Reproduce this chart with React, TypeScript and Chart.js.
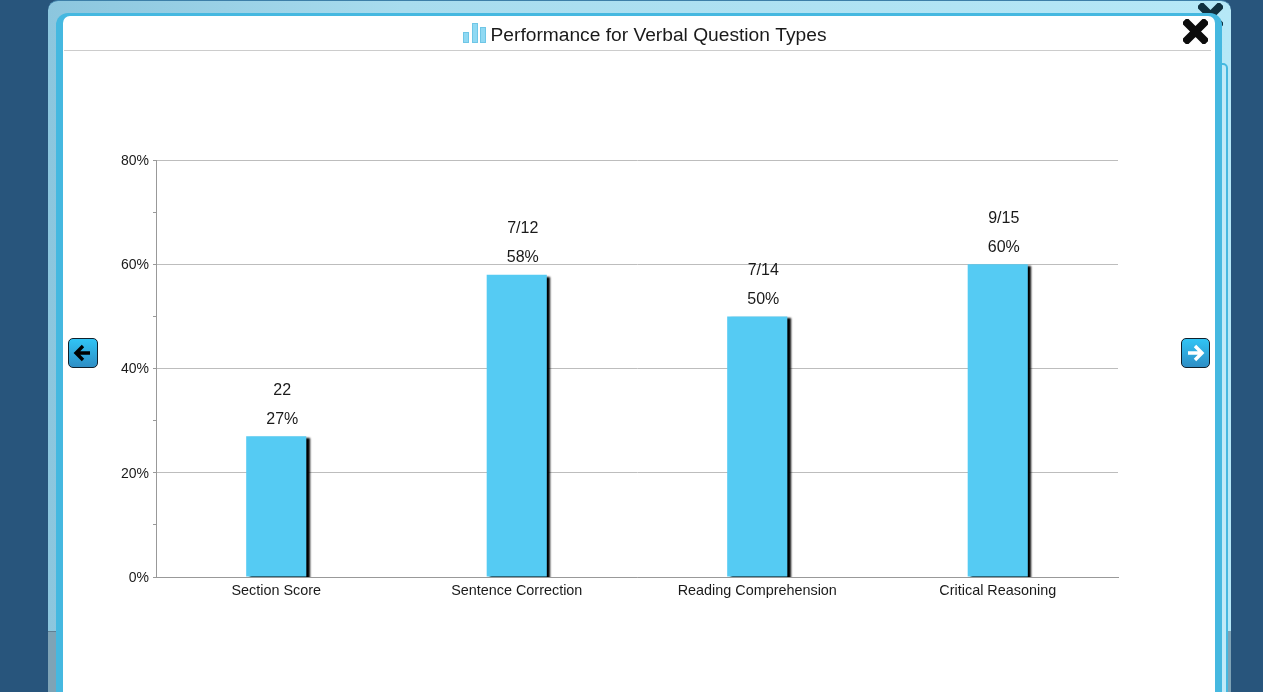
import React, { useEffect, useRef } from "react";
import { Chart, registerables } from "chart.js";

Chart.register(...registerables);

const categories = ["Section Score", "Sentence Correction", "Reading Comprehension", "Critical Reasoning"];
const percentages = [27, 58, 50, 60];
const percentLabels = ["27%", "58%", "50%", "60%"];
const scoreLabels = ["22", "7/12", "7/14", "9/15"];
const titleText = "Performance for Verbal Question Types";
const FONT = "'Liberation Sans', Arial, sans-serif";

const barShadow = {
  id: "barShadow",
  beforeDatasetDraw(chart: any) {
    const c = chart.ctx;
    c.save();
    c.shadowColor = "#000";
    c.shadowOffsetX = 3.5;
    c.shadowOffsetY = 2;
    c.shadowBlur = 2;
  },
  afterDatasetDraw(chart: any) {
    chart.ctx.restore();
  },
};

const valueLabels = {
  id: "valueLabels",
  afterDatasetsDraw(chart: any) {
    const c = chart.ctx;
    const xs = chart.scales.x;
    const ys = chart.scales.y;
    c.save();
    c.font = `16px ${FONT}`;
    c.fillStyle = "#1a1a1a";
    c.textAlign = "center";
    c.textBaseline = "middle";
    percentages.forEach((v, i) => {
      const x = xs.getPixelForValue(i) + 6;
      const y = ys.getPixelForValue(v);
      c.fillText(percentLabels[i], x, y - 17);
      c.fillText(scoreLabels[i], x, y - 46);
    });
    c.restore();
  },
};

const nudgeYLabels = {
  id: "nudgeYLabels",
  afterLayout(chart: any) {
    const s = chart.scales.y;
    s.getLabelItems(chart.chartArea).forEach((it: any) => {
      it.options = { ...it.options, translation: [it.options.translation[0], it.options.translation[1] + 1] };
    });
  },
};

const box = (s: React.CSSProperties): React.CSSProperties => ({ position: "absolute", boxSizing: "border-box", ...s });

function Cross({ x, y, size, color }: { x: number; y: number; size: number; color: string }) {
  return (
    <svg style={{ position: "absolute", left: x, top: y }} width={size} height={size} viewBox="0 0 24 24">
      <path d="M4 4 L20 20 M20 4 L4 20" stroke={color} strokeWidth={7.5} strokeLinecap="square" />
    </svg>
  );
}

function ArrowButton({ x, dir }: { x: number; dir: "left" | "right" }) {
  const color = dir === "left" ? "#000" : "#fff";
  const d = dir === "left" ? "M22 15 H10 M15 8 L8 15 L15 22" : "M7 15 H19 M14 8 L21 15 L14 22";
  return (
    <div
      style={box({
        left: x, top: 338, width: dir === "left" ? 30 : 29, height: 30, borderRadius: 5, border: "1.5px solid #10202c",
        background: "linear-gradient(#30c4f5, #2e8ec5)", overflow: "hidden",
      })}
    >
      <svg style={{ position: "absolute", left: -1.5, top: -1.5 }} width={30} height={30} viewBox="0 0 30 30">
        <path d={d} stroke={color} strokeWidth={3.4} fill="none" />
      </svg>
    </div>
  );
}

export default function App() {
  const ref = useRef<HTMLCanvasElement>(null);
  useEffect(() => {
    const chart = new Chart(ref.current!, {
      type: "bar",
      data: {
        labels: categories,
        datasets: [{
          data: percentages,
          backgroundColor: "#55cbf3",
          borderWidth: 0,
          barPercentage: 0.25,
          categoryPercentage: 1,
          xAxisID: "x",
          yAxisID: "y",
        }],
      },
      plugins: [barShadow, valueLabels, nudgeYLabels],
      options: {
        animation: false,
        responsive: false,
        plugins: {
          legend: { display: false },
          tooltip: { enabled: false },
          title: {
            display: true,
            text: titleText,
            color: "#1a1a1a",
            font: { family: FONT, size: 19.2, weight: "normal", lineHeight: "23px" },
            padding: { top: 9, bottom: 113 },
          },
        },
        scales: {
          x: {
            afterFit: (s: any) => { s.height = 115; },
            grid: { display: false, drawTicks: false },
            border: { color: "#999", width: 1, z: 1 },
            ticks: { color: "#1a1a1a", font: { family: FONT, size: 14.4 }, padding: 5, maxRotation: 0, autoSkip: false },
          },
          y: {
            min: 0,
            max: 80,
            afterFit: (s: any) => { s.width = 93; },
            border: { color: "#999", width: 1 },
            grid: {
              color: (c: any) => (c.tick.value % 20 === 0 ? "#bdbdbd" : "transparent"),
              tickColor: "#999",
              tickLength: 3,
            },
            ticks: {
              stepSize: 10,
              autoSkip: false,
              color: "#1a1a1a",
              font: { family: FONT, size: 14 },
              padding: 4,
              callback: (v: any) => (Number(v) % 20 === 0 ? `${v}%` : ""),
            },
          },
          spacer: {
            position: "right",
            afterFit: (s: any) => { s.width = 136; },
            grid: { display: false },
            border: { display: false },
            ticks: { display: false },
          },
        },
      } as any,
    });
    return () => chart.destroy();
  }, []);

  return (
    <div style={{ position: "fixed", inset: 0, overflow: "hidden", background: "#28557c" }}>
      {/* outer frame */}
      <div style={box({ left: 48, top: 0, width: 1183, height: 720, borderRadius: 10, borderTop: "1px solid #3d7fa8",
        background: "linear-gradient(90deg,#8cc6de 0%,#a8dcee 30%,#b6e8f7 100%)" })} />
      <div style={box({ left: 48, top: 631, width: 8, height: 61, background: "#7ea3b6", borderTop: "1px solid #5f8094" })} />
      <div style={box({ left: 1227, top: 631, width: 4, height: 61, background: "#7ea3b6" })} />
      <Cross x={1198} y={3} size={25} color="#10303f" />
      {/* second panel peeking out on the right */}
      <div style={box({ left: 1215, top: 63, width: 13, height: 640, borderRadius: 5, border: "2px solid #45b8e0", background: "#bfeaf8" })} />
      {/* inner panel */}
      <div style={box({ left: 56, top: 13, width: 1166, height: 700, borderRadius: 12, background: "#45b8e0" })} />
      <div style={box({ left: 63, top: 16, width: 1152, height: 690, borderRadius: 7, background: "#fff" })} />
      <div style={box({ left: 64, top: 50, width: 1147, height: 1, background: "#cccccc" })} />
      {/* title icon */}
      <div style={box({ left: 463, top: 32, width: 6, height: 11, background: "#8fd9f3", border: "1px solid #6fc6e6" })} />
      <div style={box({ left: 472, top: 23, width: 6, height: 20, background: "#8fd9f3", border: "1px solid #6fc6e6" })} />
      <div style={box({ left: 480, top: 27, width: 6, height: 16, background: "#8fd9f3", border: "1px solid #6fc6e6" })} />
      <Cross x={1183} y={19} size={25} color="#0c0c0c" />
      <ArrowButton x={68} dir="left" />
      <ArrowButton x={1181} dir="right" />
      <canvas
        ref={ref}
        width={1191}
        height={677}
        style={{ position: "absolute", left: 63, top: 15, width: 1191, height: 677, pointerEvents: "none" }}
      />
    </div>
  );
}
